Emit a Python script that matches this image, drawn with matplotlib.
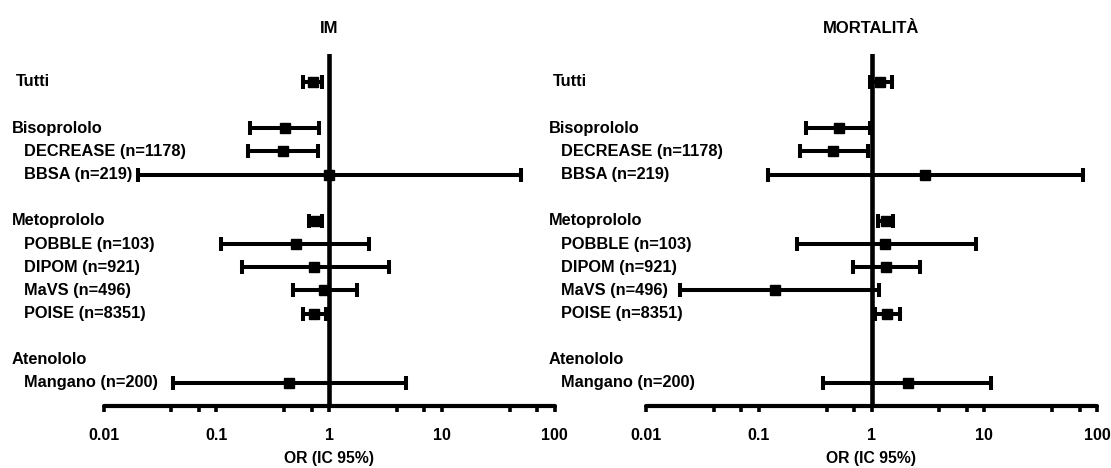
import matplotlib.pyplot as plt
import matplotlib.transforms as mtransforms
import numpy as np

plt.rcParams['font.family'] = ['Liberation Sans', 'DejaVu Sans']

# righe del forest plot (None = riga vuota)
labels = ["Tutti", None, "Bisoprololo", "DECREASE (n=1178)", "BBSA (n=219)", None,
          "Metoprololo", "POBBLE (n=103)", "DIPOM (n=921)", "MaVS (n=496)",
          "POISE (n=8351)", None, "Atenololo", "Mangano (n=200)"]
groups = ["Tutti", "Bisoprololo", "Metoprololo", "Atenololo"]

# IM: OR, limite inferiore, limite superiore
im_or = [0.72, None, 0.41, 0.39, 1.0, None, 0.76, 0.51, 0.74, 0.91, 0.73, None, None, 0.44]
im_lo = [0.59, None, 0.20, 0.19, 0.020, None, 0.66, 0.11, 0.17, 0.48, 0.59, None, None, 0.041]
im_hi = [0.86, None, 0.81, 0.80, 50.0, None, 0.86, 2.25, 3.4, 1.77, 0.93, None, None, 4.8]

# Mortalità
mo_or = [1.19, None, 0.52, 0.46, 3.0, None, 1.34, 1.33, 1.34, 0.14, 1.36, None, None, 2.1]
mo_lo = [0.96, None, 0.265, 0.23, 0.12, None, 1.15, 0.22, 0.69, 0.020, 1.07, None, None, 0.37]
mo_hi = [1.52, None, 0.97, 0.94, 75.0, None, 1.55, 8.4, 2.7, 1.17, 1.78, None, None, 11.5]

titles = ["IM", "MORTALITÀ"]
xticks = [0.01, 0.1, 1, 10, 100]
xticklabels = ["0.01", "0.1", "1", "10", "100"]

fig = plt.figure(figsize=(11.11, 4.68), dpi=100)
ax1 = fig.add_axes([103.6/1111, 1-406/468, 451/1111, 352/468])
ax2 = fig.add_axes([646/1111, 1-406/468, 451/1111, 352/468])

panels = [(ax1, im_or, im_lo, im_hi, 12/1111), (ax2, mo_or, mo_lo, mo_hi, 549/1111)]

for k, (ax, orv, lo, hi, xtxt) in enumerate(panels):
    ax.set_xscale('log')
    ax.set_xlim(0.01, 100)
    # righe da y=82 (Tutti) a y=383 (Mangano), asse a 406, linea da 54
    ax.set_ylim((406-82)/23.15, -(82-54)/23.15)

    ax.axvline(1, color='black', lw=3.3, zorder=1, solid_capstyle='round')

    for i in range(len(labels)):
        if orv[i] is None:
            continue
        ax.errorbar(orv[i], i, xerr=[[orv[i]-lo[i]], [hi[i]-orv[i]]], fmt='s',
                    color='black', ms=7, elinewidth=2.9, capsize=5.2, capthick=2.9,
                    zorder=3)

    trans = mtransforms.blended_transform_factory(fig.transFigure, ax.transData)
    for i, lab in enumerate(labels):
        if lab is None:
            continue
        dx = 0 if lab in groups else 12/1111
        if lab == "Tutti":
            dx = 4/1111
        ax.text(xtxt + dx, i, lab, transform=trans, ha='left', va='center',
                fontsize=11.8, fontweight='bold', clip_on=False)

    for s in ['top', 'right', 'left']:
        ax.spines[s].set_visible(False)
    ax.spines['bottom'].set_linewidth(3.0)
    ax.spines['bottom'].set_capstyle('round')
    ax.set_yticks([])
    ax.set_xticks(xticks)
    ax.set_xticklabels(xticklabels, fontsize=11.5, fontweight='bold')
    minors = [m*d for d in [0.01, 0.1, 1, 10] for m in [4, 7]]
    ax.set_xticks(minors, minor=True)
    ax.xaxis.set_minor_formatter(plt.NullFormatter())
    ax.tick_params(axis='x', which='both', direction='out', length=4, width=2.6, pad=12)
    ax.set_title(titles[k], fontsize=12, fontweight='bold', pad=15)

    # etichetta asse x centrata su OR = 1
    xt = mtransforms.blended_transform_factory(ax.transData, fig.transFigure)
    ax.text(1, 1-459/468, "OR (IC 95%)", transform=xt, ha='center', va='center',
            fontsize=11.3, fontweight='bold')

fig.savefig("out.png", dpi=100)
